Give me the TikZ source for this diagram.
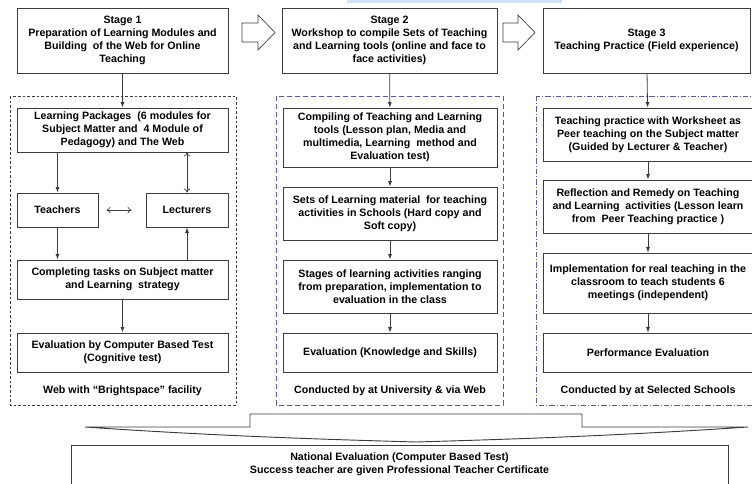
\documentclass[tikz,border=0pt]{standalone}
\usepackage{fontspec}
\setmainfont{Liberation Sans}
\usetikzlibrary{arrows.meta,calc}
\definecolor{BoxLine}{RGB}{60,60,60}
\definecolor{DashBlue}{RGB}{95,85,170}
\definecolor{BarBlue}{RGB}{205,226,246}
\tikzset{
  box/.style={draw=BoxLine, line width=0.75pt, inner sep=0pt, align=center, minimum height=#1},
  colA/.style={minimum width=158.25pt},
  colB/.style={minimum width=160.5pt},
  colC/.style={minimum width=157.5pt},
  arr/.style={draw=BoxLine, line width=0.6pt, -{Latex[length=4pt,width=3pt]}},
  dbl/.style={draw=BoxLine, line width=0.5pt, {To[length=3pt,width=5pt]}-{To[length=3pt,width=5pt]}},
  foot/.style={inner sep=0pt, align=center}
}
\begin{document}
\begin{tikzpicture}[x=0.75pt, y=-0.75pt, font=\fontsize{8}{9.75}\selectfont\bfseries]
        \useasboundingbox (0,0) rectangle (752,483);
        \clip (0,0) rectangle (752,483);
        %Top bar
        \fill[BarBlue] (347,0) rectangle (562,3);
        %Stages
        \node[box=48.75pt, minimum width=158.25pt] (s1) at (122.5,40.5) {Stage 1\\Preparation of Learning Modules and\\Building\ \ of the Web for Online\\Teaching};
        \node[box=48.75pt, minimum width=161.25pt] (s2) at (389.5,40.5) {Stage 2\\Workshop to compile Sets of Teaching\\and Learning tools (online and face to\\face activities)};
        \node[box=48.75pt, minimum width=155.25pt] (s3) at (646.5,40.5) {Stage 3\\Teaching Practice (Field experience)};
        %Block arrows
        \draw[BoxLine, line width=0.5pt] (242,23)--(258,23)--(258,15)--(275,32.5)--(258,50)--(258,42)--(242,42)--cycle;
        \draw[BoxLine, line width=0.5pt] (503,23)--(518,23)--(518,15)--(535,32.5)--(518,50)--(518,42)--(503,42)--cycle;
        %Frames
        \draw[BoxLine, line width=0.5pt, dash pattern=on 2pt off 1.5pt] (10,96) rectangle (236,405);
        \draw[DashBlue, line width=0.6pt, dash pattern=on 4pt off 2pt] (276,96) rectangle (503,405);
        \draw[DashBlue, line width=0.6pt, dash pattern=on 4pt off 1.5pt on 0.8pt off 1.5pt] (536,96) rectangle (770,405);
        %Column 1
        \node[box=33pt, colA] (lp) at (122.5,130) {Learning Packages\ \ (6 modules for\\Subject Matter and\ \ 4 Module of\\Pedagogy) and The Web};
        \node[box=25.5pt, minimum width=60.75pt] (tch) at (57.5,210) {Teachers};
        \node[box=25.5pt, minimum width=61.5pt] (lct) at (187,210) {Lecturers};
        \node[box=29.25pt, colA] (cpl) at (122.5,279.5) {Completing tasks on Subject matter\\and Learning\ \ strategy};
        \node[box=29.25pt, colA] (cbt) at (122.5,352.5) {Evaluation by Computer Based Test\\(Cognitive test)};
        \node[foot] (f1) at (122.5,391) {Web with “Brightspace” facility};
        %Column 2
        \node[box=44.25pt, colB] (cmp) at (390,137.5) {Compiling of Teaching and Learning\\tools (Lesson plan, Media and\\multimedia, Learning\ \ method and\\Evaluation test)};
        \node[box=39.75pt, colB] (set) at (390,213.5) {Sets of Learning material\ \ for teaching\\activities in Schools (Hard copy and\\Soft copy)};
        \node[box=39.75pt, colB] (stg) at (390,286.5) {Stages of learning activities ranging\\from preparation, implementation to\\evaluation in the class};
        \node[box=29.25pt, colB] (eks) at (390,352.5) {Evaluation (Knowledge and Skills)};
        \node[foot] (f2) at (390,391) {Conducted by at University \& via Web};
        %Column 3
        \node[box=39.75pt, colC] (tp) at (648,134.5) {Teaching practice with Worksheet as\\Peer teaching on the Subject matter\\(Guided by Lecturer \& Teacher)};
        \node[box=39.75pt, colC] (rfl) at (648,206.5) {Reflection and Remedy on Teaching\\and Learning\ \ activities (Lesson learn\\from\ \ Peer Teaching practice )};
        \node[box=45pt, colC] (imp) at (648,283) {Implementation for real teaching in the\\classroom to teach students 6\\meetings (independent)};
        \node[box=29.25pt, colC] (prf) at (648,352.5) {Performance Evaluation};
        \node[foot] (f3) at (648,391) {Conducted by at Selected Schools};
        %Arrows
        \draw[arr] (s1)--(lp);
        \draw[arr] (tch.north |- lp.south)--(tch);
        \draw[dbl] (lct.north |- lp.south)--(lct.north);
        \draw[dbl, shorten <=6pt, shorten >=10.5pt] (tch)--(lct);
        \draw[arr] (tch)--(tch.south |- cpl.north);
        \draw[arr] (lct.south |- cpl.north)--(lct.south);
        \draw[arr] (cpl)--(cbt);
        \draw[arr] (s2)--(cmp);
        \draw[arr] (cmp)--(set);
        \draw[arr] (set)--(stg);
        \draw[arr] (stg)--(eks);
        \draw[arr] (s3)--(tp);
        \draw[arr] (tp)--(rfl);
        \draw[arr] (rfl)--(imp);
        \draw[arr] (imp)--(prf);
        %Brace
        \draw[BoxLine, line width=0.7pt] (85,427)--(250,427)--(250,414)--(582,414)--(582,427)--(748,427)
          .. controls (600,437) and (480,440) .. (416,442) .. controls (350,440) and (230,437) .. (85,427);
        %National
        \draw[BoxLine, line width=0.75pt] (71,445) rectangle (728,510);
        \node[foot] (nat) at (399.5,464.5) {National Evaluation (Computer Based Test)\\Success teacher are given Professional Teacher Certificate};
\end{tikzpicture}
\end{document}
